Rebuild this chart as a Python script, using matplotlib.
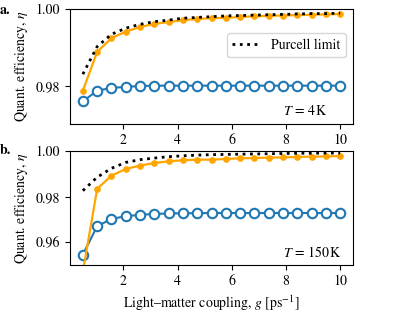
import numpy as np
import matplotlib
matplotlib.use("Agg")
import matplotlib.pyplot as plt

plt.rcParams['font.family'] = ['STIXGeneral', 'DejaVu Serif']
plt.rcParams['mathtext.fontset'] = 'stix'
plt.rcParams['font.size'] = 10

g = np.linspace(0.5, 10, 19)

# Panel a, T = 4 K
eta_orange_4K = [0.9787, 0.9888, 0.9924, 0.9941, 0.9953, 0.9961, 0.9966, 0.9971, 0.9974, 0.9976,
                 0.9977, 0.9979, 0.9981, 0.9982, 0.9983, 0.9984, 0.9985, 0.9986, 0.9987]
eta_blue_4K = [0.9759, 0.9787, 0.9794, 0.9797, 0.9799, 0.9800, 0.9800, 0.9800, 0.9800, 0.9800,
               0.9800, 0.9800, 0.9800, 0.9800, 0.9800, 0.9800, 0.9800, 0.9800, 0.9800]
purcell_4K = [0.9830, 0.9902, 0.9934, 0.9950, 0.9960, 0.9967, 0.9971, 0.9976, 0.9978, 0.9980,
              0.9982, 0.9983, 0.9984, 0.9985, 0.9986, 0.9987, 0.9988, 0.9988, 0.9989]

# Panel b, T = 150 K
eta_orange_150K = [0.9470, 0.9834, 0.9892, 0.9921, 0.9936, 0.9947, 0.9955, 0.9959, 0.9962, 0.9962,
                   0.9965, 0.9968, 0.9969, 0.9971, 0.9972, 0.9974, 0.9975, 0.9976, 0.9978]
eta_blue_150K = [0.9546, 0.9670, 0.9702, 0.9714, 0.9720, 0.9724, 0.9726, 0.9727, 0.9727, 0.9728,
                 0.9728, 0.9728, 0.9728, 0.9728, 0.9728, 0.9728, 0.9728, 0.9728, 0.9728]
purcell_150K = [0.9826, 0.9885, 0.9924, 0.9950, 0.9962, 0.9969, 0.9975, 0.9979, 0.9982, 0.9984,
                0.9985, 0.9986, 0.9987, 0.9988, 0.9989, 0.9990, 0.9990, 0.9991, 0.9991]

W, H = 415, 312
fig = plt.figure(figsize=(W / 100, H / 100), dpi=100)

def box(l, t, r, b):
    return [l / W, 1 - b / H, (r - l) / W, (b - t) / H]

ax1 = fig.add_axes(box(70, 9, 353, 124))
ax2 = fig.add_axes(box(70, 151, 353, 265))

blue = '#1f77b4'
orange = '#FFA500'

for ax, eo, eb, pl, ylim, yt, temp in [
        (ax1, eta_orange_4K, eta_blue_4K, purcell_4K, (0.97, 1.0), [0.98, 1.00], r'$T$ = 4$\,$K'),
        (ax2, eta_orange_150K, eta_blue_150K, purcell_150K, (0.95, 1.0), [0.96, 0.98, 1.00], r'$T$ = 150$\,$K')]:
    ax.plot(g, eb, '-o', color=blue, lw=1.5, ms=6.8, mfc='white', mec=blue, mew=1.5, zorder=2)
    ax.plot(g, eo, '-o', color=orange, lw=1.6, ms=3.8, zorder=3)
    ax.plot(g, pl, ':', color='black', lw=2, zorder=4, label='Purcell limit')
    ax.set_ylim(*ylim)
    ax.set_yticks(yt)
    ax.set_yticklabels([f'{v:.2f}' for v in yt])
    ax.set_xticks([2, 4, 6, 8, 10])
    ax.set_ylabel(r'Quant. efficiency, $\eta$')
    ax.text(0.752, 0.11, temp, transform=ax.transAxes, ha='left', va='center')

ax1.legend(loc='upper right', bbox_to_anchor=(1.0, 0.852), handlelength=2.0)
ax2.set_xlabel(r'Light–matter coupling, $g$ [ps$^{-1}$]')

fig.text(0.0, 1 - 10 / H, 'a.', fontweight='bold', ha='left', va='center')
fig.text(0.0, 1 - 150 / H, 'b.', fontweight='bold', ha='left', va='center')

fig.savefig('out.png', dpi=100)
